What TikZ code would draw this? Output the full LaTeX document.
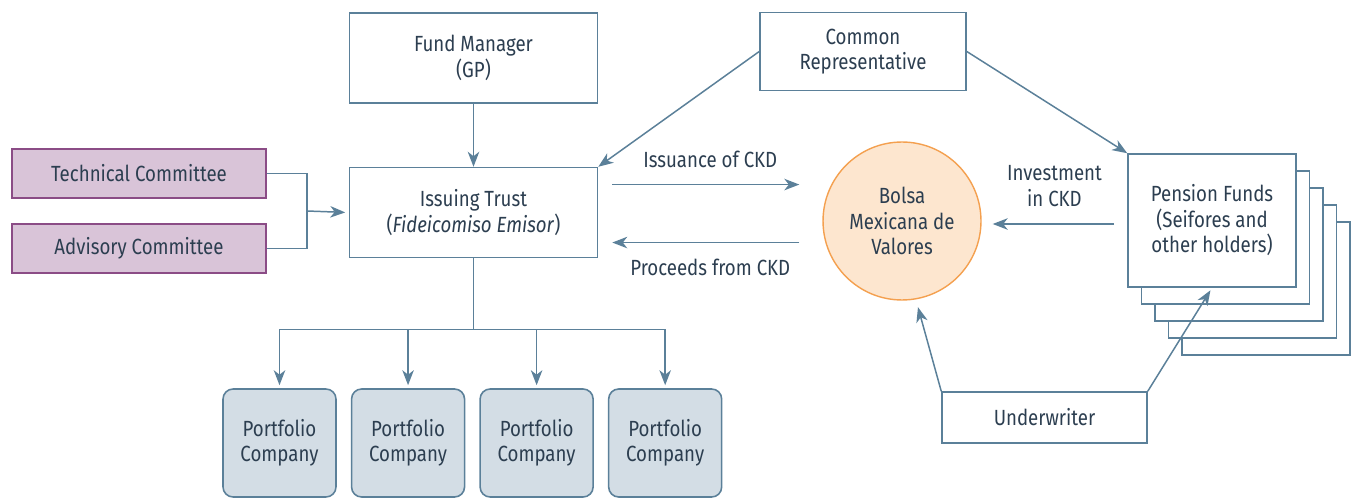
\documentclass[tikz,border=0pt]{standalone}
\usepackage{fontspec}
\setmainfont{Fira Sans}[FakeStretch=0.85]
\usepackage{xcolor}
\usepackage{tikz}
\usetikzlibrary{positioning}
\usetikzlibrary{calc}
\usetikzlibrary{arrows.meta}

\definecolor{linecol}{HTML}{5B8099}
\definecolor{textcol}{HTML}{2C3E50}
\definecolor{cmtfill}{HTML}{D9C4D8}
\definecolor{cmtdraw}{HTML}{8B4C86}
\definecolor{pcfill}{HTML}{D3DDE5}
\definecolor{bmvfill}{HTML}{FDE6CF}
\definecolor{bmvdraw}{HTML}{F4A04F}

\begin{document}
\begin{tikzpicture}[
        x=0.02cm, y=-0.02cm,
        every node/.style={text=textcol, font=\fontsize{12.5}{14.5}\selectfont},
        box/.style={rectangle, draw=linecol, line width=0.9pt, fill=white, align=center, inner sep=0pt},
        committee/.style={rectangle, draw=cmtdraw, line width=0.9pt, fill=cmtfill, minimum width=5.08cm, minimum height=0.98cm, inner sep=0pt},
        company/.style={rectangle, rounded corners=0.2cm, draw=linecol, line width=0.9pt, fill=pcfill, minimum width=2.26cm, minimum height=2.16cm, align=center, inner sep=0pt},
        fundbox/.style={box, minimum width=3.36cm, minimum height=2.66cm},
        link/.style={draw=linecol, line width=0.85pt},
        arr/.style={link, -{Stealth[length=0.3cm, width=0.23cm, inset=0.09cm]}}
    ]
    \useasboundingbox (0,0) rectangle (1351,499);

    \node[box, minimum width=4.96cm, minimum height=1.8cm] (manager) at (473.5,58) {Fund Manager\\(GP)};
    \node[box, minimum width=4.96cm, minimum height=1.8cm] (trust) [below=1.26cm of manager] {Issuing Trust\\(\textit{Fideicomiso Emisor})};
    \node[box, minimum width=4.12cm, minimum height=1.56cm] (rep) at (863,51.5) {Common\\Representative};

    \node[committee] (technical) at (139,173.5) {Technical Committee};
    \node[committee] (advisory) [below=0.49cm of technical] {Advisory Committee};

    \node[circle, draw=bmvdraw, line width=0.8pt, fill=bmvfill, minimum size=3.16cm, align=center, inner sep=0pt] (bolsa) at (902,221) {Bolsa\\Mexicana de\\Valores};

    \foreach \i in {4,3,2,1}
        \node[fundbox] at ($(1212,220.5)+(13.5*\i,17*\i)$) {};
    \node[fundbox] (pension) at (1212,220.5) {Pension Funds\\(Seifores and\\other holders)};

    \node[box, minimum width=4.1cm, minimum height=1.02cm] (underwriter) at (1044.5,417.5) {Underwriter};

    \node[company] (pc1) at (279.5,443) {Portfolio\\Company};
    \node[company] (pc2) [right=0.28cm of pc1] {Portfolio\\Company};
    \node[company] (pc3) [right=0.28cm of pc2] {Portfolio\\Company};
    \node[company] (pc4) [right=0.28cm of pc3] {Portfolio\\Company};

    \draw[arr] (manager) to (trust);
    \draw[arr] (rep.west) to (trust.north east);
    \draw[arr] (rep.east) to (pension.north west);

    \coordinate (join) at (307,211);
    \draw[link] (technical.east) -| (join);
    \draw[link] (advisory.east) -| (join);
    \draw[arr, shorten >=2pt] (join) to (trust.west);

    \draw[arr, shorten <=0.28cm, shorten >=0.46cm] ([yshift=0.56cm]trust.east) to node[midway, yshift=0.5cm] {Issuance of CKD} ([yshift=0.56cm]trust.east -| bolsa.west);
    \draw[arr, shorten <=0.46cm, shorten >=0.28cm] ([yshift=-0.6cm]trust.east -| bolsa.west) to node[midway, yshift=-0.5cm] {Proceeds from CKD} ([yshift=-0.6cm]trust.east);
    \draw[arr, shorten <=0.26cm, shorten >=0.22cm] ([yshift=-0.07cm]pension.west) to node[midway, yshift=0.76cm, align=center] {Investment\\in CKD} ([yshift=-0.07cm]pension.west -| bolsa.east);

    \draw[arr, shorten >=0.16cm] (underwriter.north west) to (bolsa.-80);
    \draw[arr, shorten >=0.06cm] (underwriter.north east) to (pension.south);

    \foreach \pc in {pc1,pc2,pc3,pc4}
        \draw[arr, shorten >=0.06cm] (trust.south) -- ++(0,71) -| (\pc.north);
\end{tikzpicture}
\end{document}
